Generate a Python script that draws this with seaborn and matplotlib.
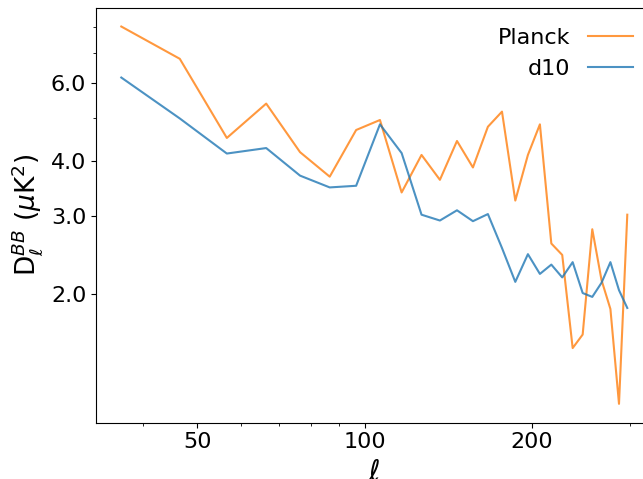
import numpy as np
import pandas as pd
import seaborn as sns
import matplotlib.pyplot as plt
from matplotlib.ticker import NullFormatter

# binned multipoles
ell = [36.5, 46.5, 56.5, 66.5, 76.5, 86.5, 96.5, 106.5, 116.5, 126.5,
       136.5, 146.5, 156.5, 166.5, 176.5, 186.5, 196.5, 206.5, 216.5,
       226.5, 236.5, 246.5, 256.5, 266.5, 276.5, 286.5, 296.5]

# D_ell^BB in uK^2
planck = [8.03, 6.79, 4.50, 5.38, 4.18, 3.68, 4.69, 4.94, 3.39, 4.12,
          3.62, 4.43, 3.86, 4.77, 5.16, 3.25, 4.12, 4.83, 2.60, 2.45,
          1.51, 1.62, 2.80, 2.15, 1.85, 1.13, 3.02]
d10 = [6.16, 4.98, 4.15, 4.27, 3.70, 3.48, 3.51, 4.83, 4.16, 3.02,
       2.93, 3.09, 2.92, 3.03, 2.54, 2.13, 2.46, 2.22, 2.33, 2.18,
       2.36, 2.01, 1.97, 2.12, 2.36, 2.04, 1.86]

df = pd.concat([
    pd.DataFrame({'ell': ell, 'Dl': planck, 'map': 'Planck'}),
    pd.DataFrame({'ell': ell, 'Dl': d10, 'map': 'd10'}),
])

fig = plt.figure(figsize=(6.43, 4.79), dpi=100)
# axes runs a bit past the right edge of the figure, as in the original crop
ax = fig.add_axes([0.1493, 0.1175, 0.8656, 0.8665])

sns.lineplot(data=df, x='ell', y='Dl', hue='map', hue_order=['Planck', 'd10'],
             palette={'Planck': 'C1', 'd10': 'C0'}, alpha=0.8, lw=1.5,
             estimator=None, sort=False, ax=ax)

ax.set_xscale('log')
ax.set_yscale('log')

ax.set_xticks([50, 100, 200])
ax.set_xticklabels(['50', '100', '200'])
ax.set_yticks([2, 3, 4, 6])
ax.set_yticklabels(['2.0', '3.0', '4.0', '6.0'])
ax.xaxis.set_minor_formatter(NullFormatter())
ax.yaxis.set_minor_formatter(NullFormatter())
ax.tick_params(labelsize=16)

ax.set_xlabel(r'$\ell$', fontsize=20)
ax.set_ylabel(r'D$_{\ell}^{BB}$ ($\mu$K$^2$)', fontsize=19)

ax.legend(loc='upper right', frameon=False, markerfirst=False, fontsize=16)

fig.savefig('out.png', dpi=100)
